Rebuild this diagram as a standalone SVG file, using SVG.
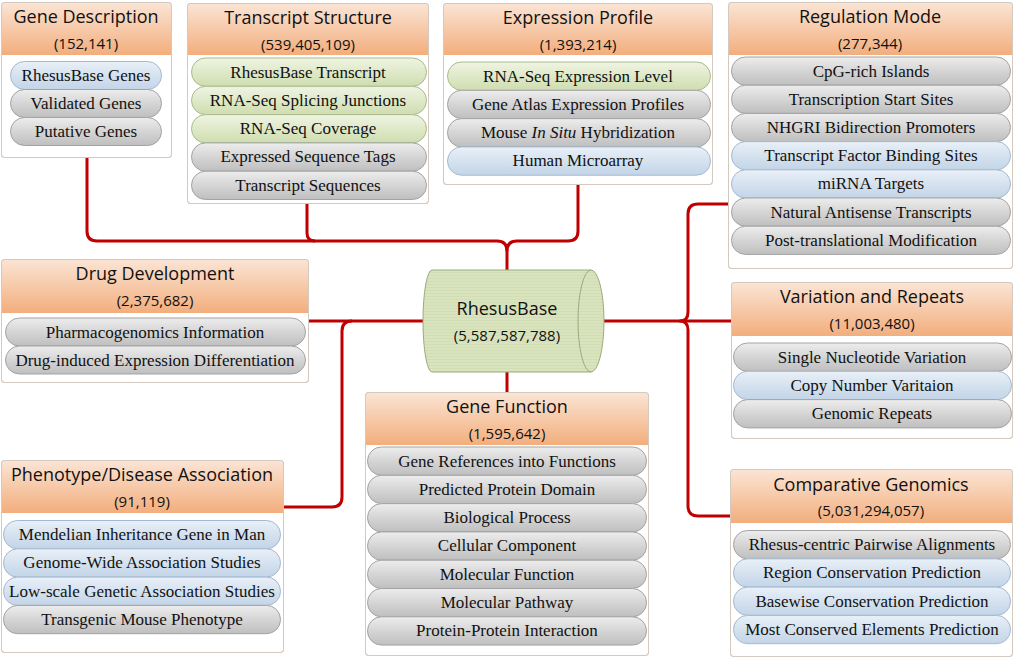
<svg xmlns="http://www.w3.org/2000/svg" width="1014" height="657" viewBox="0 0 1014 657">
<defs>
<linearGradient id="hdr" x1="0" y1="0" x2="0" y2="1">
<stop offset="0" stop-color="#fbe4d4"/>
<stop offset="1" stop-color="#f2ae7d"/>
</linearGradient>
<linearGradient id="gGray" x1="0" y1="0" x2="0" y2="1">
<stop offset="0" stop-color="#ededed"/>
<stop offset="0.5" stop-color="#d5d5d5"/>
<stop offset="1" stop-color="#bfbfbf"/>
</linearGradient>
<linearGradient id="gBlue" x1="0" y1="0" x2="0" y2="1">
<stop offset="0" stop-color="#e9f0f8"/>
<stop offset="0.5" stop-color="#d5e2ef"/>
<stop offset="1" stop-color="#c3d5e8"/>
</linearGradient>
<linearGradient id="gGreen" x1="0" y1="0" x2="0" y2="1">
<stop offset="0" stop-color="#eff4e3"/>
<stop offset="0.5" stop-color="#dfe9c9"/>
<stop offset="1" stop-color="#cfddb0"/>
</linearGradient>
<pattern id="stripes" width="6" height="3" patternUnits="userSpaceOnUse">
<rect width="6" height="3" fill="#d9e4bf"/>
<rect y="2" width="6" height="1" fill="#d1ddb3"/>
</pattern>
</defs>
<style>
.box{fill:#ffffff;stroke:#d3c9bf;stroke-width:1}
.hdr{fill:url(#hdr)}
.frame{fill:none;stroke:#d3c9bf;stroke-width:1}
.title{font-family:"Open Sans","Liberation Sans",sans-serif;font-size:18px;fill:#111111;text-anchor:middle}
.count{font-family:"Open Sans","Liberation Sans",sans-serif;font-size:15px;fill:#111111;text-anchor:middle}
.pt{font-family:"Liberation Serif","Times New Roman",serif;font-size:17px;fill:#111111;text-anchor:middle}
.gray{fill:url(#gGray);stroke:#a3a3a3;stroke-width:1}
.blue{fill:url(#gBlue);stroke:#a4b9cf;stroke-width:1}
.green{fill:url(#gGreen);stroke:#aabb8a;stroke-width:1}
.conn{fill:none;stroke:#c00000;stroke-width:3;stroke-linejoin:round}
</style>

<g id="connectors">
<path class="conn" d="M87 157 V231 Q87 241 97 241 H497 Q507 241 507 251 V270"/>
<path class="conn" d="M578 184 V231 Q578 241 568 241 H517 Q507 241 507 251"/>
<path class="conn" d="M307 203 V233 Q307 241 315 241"/>
<path class="conn" d="M308 321 H423"/>
<path class="conn" d="M283 507 H332 Q342 507 342 497 V331 Q342 321 352 321"/>
<path class="conn" d="M507 372 V392"/>
<path class="conn" d="M604 321 H731"/>
<path class="conn" d="M728 204 H698 Q688 204 688 214 V312 Q688 321 680 321 Q688 321 688 330 V506 Q688 516 698 516 H730"/>
</g>

<g id="gene-description">
<rect class="box" x="1.5" y="2.5" width="170" height="155" rx="3"/>
<path class="hdr" d="M2 55 V5 Q2 3 4 3 H169 Q171 3 171 5 V55 Z"/>
<rect class="frame" x="1.5" y="2.5" width="170" height="155" rx="3"/>
<text class="title" x="86" y="23">Gene Description</text>
<text class="count" x="86" y="49">(152,141)</text>
<rect class="blue" x="10.5" y="61.5" width="151" height="28" rx="14"/>
<rect class="gray" x="10.5" y="89.5" width="151" height="28" rx="14"/>
<rect class="gray" x="10.5" y="117.5" width="151" height="28" rx="14"/>
<text class="pt" x="86" y="81">RhesusBase Genes</text>
<text class="pt" x="86" y="109">Validated Genes</text>
<text class="pt" x="86" y="137">Putative Genes</text>
</g>

<g id="transcript-structure">
<rect class="box" x="187.5" y="3.5" width="241" height="200" rx="3"/>
<path class="hdr" d="M188 55 V6 Q188 4 190 4 H426 Q428 4 428 6 V55 Z"/>
<rect class="frame" x="187.5" y="3.5" width="241" height="200" rx="3"/>
<text class="title" x="308" y="24">Transcript Structure</text>
<text class="count" x="308" y="50">(539,405,109)</text>
<rect class="green" x="191.5" y="58" width="235" height="28.3" rx="14"/>
<rect class="green" x="191.5" y="86.3" width="235" height="28.3" rx="14"/>
<rect class="green" x="191.5" y="114.6" width="235" height="28.3" rx="14"/>
<rect class="gray" x="191.5" y="142.9" width="235" height="28.3" rx="14"/>
<rect class="gray" x="191.5" y="171.2" width="235" height="28.3" rx="14"/>
<text class="pt" x="308" y="77.5">RhesusBase Transcript</text>
<text class="pt" x="308" y="105.8">RNA-Seq Splicing Junctions</text>
<text class="pt" x="308" y="134.1">RNA-Seq Coverage</text>
<text class="pt" x="308" y="162.4">Expressed Sequence Tags</text>
<text class="pt" x="308" y="190.7">Transcript Sequences</text>
</g>

<g id="expression-profile">
<rect class="box" x="443.5" y="3.5" width="269" height="181" rx="3"/>
<path class="hdr" d="M444 55 V6 Q444 4 446 4 H710 Q712 4 712 6 V55 Z"/>
<rect class="frame" x="443.5" y="3.5" width="269" height="181" rx="3"/>
<text class="title" x="578" y="24">Expression Profile</text>
<text class="count" x="578" y="50">(1,393,214)</text>
<rect class="green" x="447.5" y="62" width="263" height="28.3" rx="14"/>
<rect class="gray" x="447.5" y="90.3" width="263" height="28.3" rx="14"/>
<rect class="gray" x="447.5" y="118.6" width="263" height="28.3" rx="14"/>
<rect class="blue" x="447.5" y="146.9" width="263" height="28.3" rx="14"/>
<text class="pt" x="578" y="81.5">RNA-Seq Expression Level</text>
<text class="pt" x="578" y="109.8">Gene Atlas Expression Profiles</text>
<text class="pt" x="578" y="138.1">Mouse <tspan font-style="italic">In Situ</tspan> Hybridization</text>
<text class="pt" x="578" y="166.4">Human Microarray</text>
</g>

<g id="regulation-mode">
<rect class="box" x="728.5" y="2.5" width="284" height="266" rx="3"/>
<path class="hdr" d="M729 55 V5 Q729 3 731 3 H1010 Q1012 3 1012 5 V55 Z"/>
<rect class="frame" x="728.5" y="2.5" width="284" height="266" rx="3"/>
<text class="title" x="870" y="23">Regulation Mode</text>
<text class="count" x="870" y="49">(277,344)</text>
<rect class="gray" x="731.5" y="57" width="279" height="28.2" rx="14"/>
<rect class="gray" x="731.5" y="85.2" width="279" height="28.2" rx="14"/>
<rect class="gray" x="731.5" y="113.4" width="279" height="28.2" rx="14"/>
<rect class="blue" x="731.5" y="141.6" width="279" height="28.2" rx="14"/>
<rect class="blue" x="731.5" y="169.8" width="279" height="28.2" rx="14"/>
<rect class="gray" x="731.5" y="198" width="279" height="28.2" rx="14"/>
<rect class="gray" x="731.5" y="226.2" width="279" height="28.2" rx="14"/>
<text class="pt" x="871" y="76.5">CpG-rich Islands</text>
<text class="pt" x="871" y="104.7">Transcription Start Sites</text>
<text class="pt" x="871" y="132.9">NHGRI Bidirection Promoters</text>
<text class="pt" x="871" y="161.1">Transcript Factor Binding Sites</text>
<text class="pt" x="871" y="189.3">miRNA Targets</text>
<text class="pt" x="871" y="217.5">Natural Antisense Transcripts</text>
<text class="pt" x="871" y="245.7">Post-translational Modification</text>
</g>

<g id="drug-development">
<rect class="box" x="1.5" y="259.5" width="307" height="123" rx="3"/>
<path class="hdr" d="M2 313 V262 Q2 260 4 260 H306 Q308 260 308 262 V313 Z"/>
<rect class="frame" x="1.5" y="259.5" width="307" height="123" rx="3"/>
<text class="title" x="155" y="280">Drug Development</text>
<text class="count" x="155" y="306">(2,375,682)</text>
<rect class="gray" x="5.5" y="318" width="300" height="28" rx="14"/>
<rect class="gray" x="5.5" y="346" width="300" height="28" rx="14"/>
<text class="pt" x="155" y="337.5">Pharmacogenomics Information</text>
<text class="pt" x="155" y="365.5">Drug-induced Expression Differentiation</text>
</g>

<g id="rhesusbase">
<path d="M432 270 H591 A13 51 0 0 1 591 372 H432 A9 51 0 0 1 432 270 Z" fill="url(#stripes)" stroke="#9aab7c" stroke-width="1"/>
<path d="M591 270 A13 51 0 0 0 591 372" fill="none" stroke="#9aab7c" stroke-width="1"/>
<text class="title" x="507" y="315">RhesusBase</text>
<text class="count" x="507" y="341">(5,587,587,788)</text>
</g>

<g id="variation-repeats">
<rect class="box" x="731.5" y="282.5" width="281" height="156" rx="3"/>
<path class="hdr" d="M732 336 V285 Q732 283 734 283 H1010 Q1012 283 1012 285 V336 Z"/>
<rect class="frame" x="731.5" y="282.5" width="281" height="156" rx="3"/>
<text class="title" x="872" y="303">Variation and Repeats</text>
<text class="count" x="872" y="329">(11,003,480)</text>
<rect class="gray" x="733.5" y="343" width="278" height="28.3" rx="14"/>
<rect class="blue" x="733.5" y="371.3" width="278" height="28.3" rx="14"/>
<rect class="gray" x="733.5" y="399.6" width="278" height="28.3" rx="14"/>
<text class="pt" x="872" y="362.5">Single Nucleotide Variation</text>
<text class="pt" x="872" y="390.8">Copy Number Varitaion</text>
<text class="pt" x="872" y="419.1">Genomic Repeats</text>
</g>

<g id="gene-function">
<rect class="box" x="365.5" y="392.5" width="283" height="263" rx="3"/>
<path class="hdr" d="M366 445 V395 Q366 393 368 393 H646 Q648 393 648 395 V445 Z"/>
<rect class="frame" x="365.5" y="392.5" width="283" height="263" rx="3"/>
<text class="title" x="507" y="413">Gene Function</text>
<text class="count" x="507" y="439">(1,595,642)</text>
<rect class="gray" x="367.5" y="447" width="279" height="28.3" rx="14"/>
<rect class="gray" x="367.5" y="475.3" width="279" height="28.3" rx="14"/>
<rect class="gray" x="367.5" y="503.6" width="279" height="28.3" rx="14"/>
<rect class="gray" x="367.5" y="531.9" width="279" height="28.3" rx="14"/>
<rect class="gray" x="367.5" y="560.2" width="279" height="28.3" rx="14"/>
<rect class="gray" x="367.5" y="588.5" width="279" height="28.3" rx="14"/>
<rect class="gray" x="367.5" y="616.8" width="279" height="28.3" rx="14"/>
<text class="pt" x="507" y="466.5">Gene References into Functions</text>
<text class="pt" x="507" y="494.8">Predicted Protein Domain</text>
<text class="pt" x="507" y="523.1">Biological Process</text>
<text class="pt" x="507" y="551.4">Cellular Component</text>
<text class="pt" x="507" y="579.7">Molecular Function</text>
<text class="pt" x="507" y="608">Molecular Pathway</text>
<text class="pt" x="507" y="636.3">Protein-Protein Interaction</text>
</g>

<g id="phenotype-disease">
<rect class="box" x="1.5" y="460.5" width="282" height="192" rx="3"/>
<path class="hdr" d="M2 513 V463 Q2 461 4 461 H281 Q283 461 283 463 V513 Z"/>
<rect class="frame" x="1.5" y="460.5" width="282" height="192" rx="3"/>
<text class="title" x="142" y="481">Phenotype/Disease Association</text>
<text class="count" x="142" y="507">(91,119)</text>
<rect class="blue" x="3.5" y="520.5" width="277" height="28.3" rx="14"/>
<rect class="blue" x="3.5" y="548.8" width="277" height="28.3" rx="14"/>
<rect class="blue" x="3.5" y="577.1" width="277" height="28.3" rx="14"/>
<rect class="gray" x="3.5" y="605.4" width="277" height="28.3" rx="14"/>
<text class="pt" x="142" y="540">Mendelian Inheritance Gene in Man</text>
<text class="pt" x="142" y="568.3">Genome-Wide Association Studies</text>
<text class="pt" x="142" y="596.6">Low-scale Genetic Association Studies</text>
<text class="pt" x="142" y="624.9">Transgenic Mouse Phenotype</text>
</g>

<g id="comparative-genomics">
<rect class="box" x="730.5" y="469.5" width="282" height="187" rx="3"/>
<path class="hdr" d="M731 523 V472 Q731 470 733 470 H1010 Q1012 470 1012 472 V523 Z"/>
<rect class="frame" x="730.5" y="469.5" width="282" height="187" rx="3"/>
<text class="title" x="871" y="491">Comparative Genomics</text>
<text class="count" x="871" y="516">(5,031,294,057)</text>
<rect class="gray" x="733.5" y="530.5" width="277" height="28.3" rx="14"/>
<rect class="blue" x="733.5" y="558.8" width="277" height="28.3" rx="14"/>
<rect class="blue" x="733.5" y="587.1" width="277" height="28.3" rx="14"/>
<rect class="blue" x="733.5" y="615.4" width="277" height="28.3" rx="14"/>
<text class="pt" x="872" y="550">Rhesus-centric Pairwise Alignments</text>
<text class="pt" x="872" y="578.3">Region Conservation Prediction</text>
<text class="pt" x="872" y="606.6">Basewise Conservation Prediction</text>
<text class="pt" x="872" y="634.9">Most Conserved Elements Prediction</text>
</g>
</svg>
